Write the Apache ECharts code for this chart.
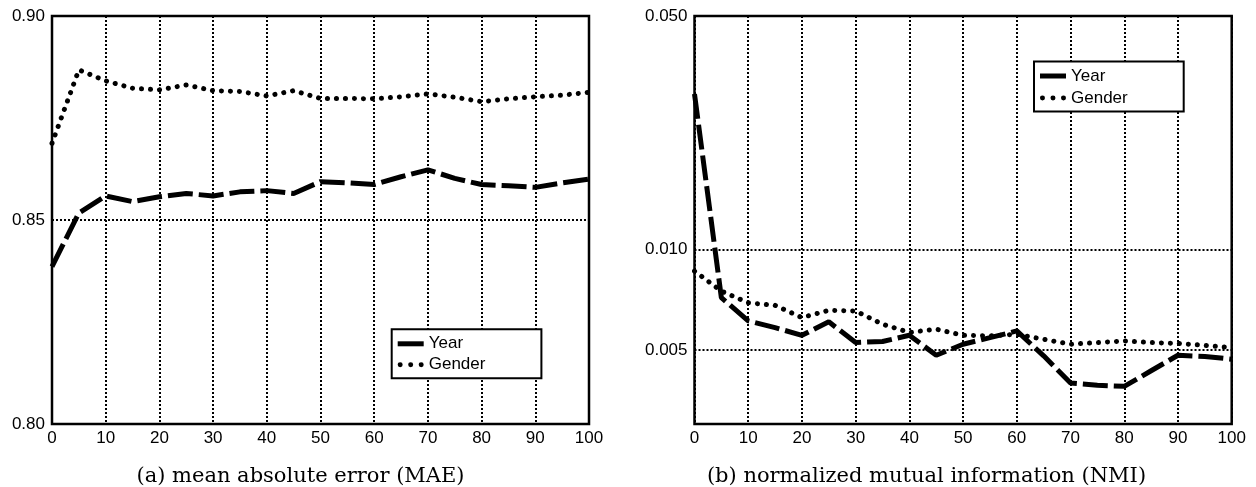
<!DOCTYPE html>
<html><head><meta charset="utf-8">
<script src="https://cdn.jsdelivr.net/npm/echarts@6/dist/echarts.min.js"></script>
<style>html,body{margin:0;padding:0;background:#fff}#c{width:1256px;height:487px}</style>
</head><body><div id="c"></div>
<script>
const xs = [0,5,10,15,20,25,30,35,40,45,50,55,60,65,70,75,80,85,90,95,100];
const maeYear   = [0.8386,0.8517,0.8559,0.8545,0.8557,0.8565,0.8559,0.8569,0.8572,0.8565,0.8594,0.8591,0.8587,0.8606,0.8623,0.8602,0.8587,0.8584,0.8580,0.8591,0.8600];
const maeGender = [0.8688,0.8868,0.8841,0.8823,0.8819,0.8831,0.8817,0.8815,0.8804,0.8817,0.8798,0.8798,0.8797,0.8802,0.8809,0.8801,0.8790,0.8797,0.8802,0.8806,0.8813];
const nmiYear   = [0.0292,0.00717,0.00611,0.00583,0.00553,0.00607,0.00526,0.00530,0.00553,0.00482,0.00520,0.00544,0.00570,0.00480,0.00398,0.00392,0.00389,0.00433,0.00482,0.00478,0.00469];
const nmiGender = [0.00861,0.00750,0.00692,0.00680,0.00625,0.00657,0.00654,0.00597,0.00564,0.00577,0.00553,0.00551,0.00557,0.00538,0.00520,0.00526,0.00532,0.00526,0.00523,0.00516,0.00508];
const xTicks = [0,10,20,30,40,50,60,70,80,90,100];
const maeTicks = [0.80,0.85,0.90];
const nmiTicks = [0.005,0.010,0.050];
const seriesNames = ['Year','Gender'];
const captions = ['(a) mean absolute error (MAE)','(b) normalized mutual information (NMI)'];

const pairs = (ys) => xs.map((x,i)=>[x, ys[i]]);
const FONT = '"Liberation Sans", Arial, Helvetica, sans-serif';
const dotted = {color:'#000', width:2, type:[2,2]};
const dotPath = 'path://M1,2.5a2.3,2.3 0 1,0 4.6,0a2.3,2.3 0 1,0 -4.6,0M10.7,2.5a2.3,2.3 0 1,0 4.6,0a2.3,2.3 0 1,0 -4.6,0M20.4,2.5a2.3,2.3 0 1,0 4.6,0a2.3,2.3 0 1,0 -4.6,0';

function xAxis(gi){
  return {type:'value', gridIndex:gi, min:0, max:100, interval:10,
    axisLine:{show:false}, axisTick:{show:false},
    axisLabel:{color:'#000', fontSize:17, fontFamily:FONT, margin:6, customValues:xTicks},
    splitLine:{show:true, lineStyle:dotted}};
}
function legend(left, top, gap){
  return {orient:'vertical', left:left, top:top, itemWidth:26, itemHeight:5, itemGap:gap,
    padding:[6,56,5,6], borderColor:'#000', borderWidth:2, backgroundColor:'#fff',
    textStyle:{color:'#000', fontSize:17, fontFamily:FONT},
    data:[{name:seriesNames[0], icon:'rect'},{name:seriesNames[1], icon:dotPath}]};
}
function yearSeries(xi, data){
  return {name:seriesNames[0], type:'line', xAxisIndex:xi, yAxisIndex:xi, data:pairs(data),
    showSymbol:false, symbol:'none', color:'#000', itemStyle:{color:'#000'},
    lineStyle:{color:'#000', width:5, type:[25,6], cap:'butt'}, z:3};
}
function genderSeries(xi, data){
  return {name:seriesNames[1], type:'line', xAxisIndex:xi, yAxisIndex:xi, data:pairs(data),
    showSymbol:false, symbol:'none', color:'#000', itemStyle:{color:'#000'},
    lineStyle:{color:'#000', width:5, type:[0.1,8.9], cap:'round'}, z:3};
}

const chart = echarts.init(document.getElementById('c'), null, {renderer:'canvas'});
chart.setOption({
  animation:false,
  backgroundColor:'#fff',
  grid:[
    {left:52, top:16, width:537, height:408, show:true, borderColor:'#000', borderWidth:2.5, backgroundColor:'transparent', z:4},
    {left:694.5, top:16, width:537.2, height:408, show:true, borderColor:'#000', borderWidth:2.5, backgroundColor:'transparent', z:4}
  ],
  xAxis:[xAxis(0), xAxis(1)],
  yAxis:[
    {type:'value', gridIndex:0, min:0.80, max:0.90, interval:0.05,
     axisLine:{show:false}, axisTick:{show:false},
     axisLabel:{color:'#000', fontSize:17, fontFamily:FONT, margin:7, customValues:maeTicks, formatter:(v)=>v.toFixed(2)},
     splitLine:{show:true, lineStyle:dotted}},
    {type:'log', gridIndex:1, min:0.003, max:0.05, logBase:10,
     axisLine:{show:false}, axisTick:{show:false, customValues:nmiTicks},
     axisLabel:{color:'#000', fontSize:17, fontFamily:FONT, margin:7, customValues:nmiTicks, formatter:(v)=>(+v).toFixed(3)},
     splitLine:{show:true, lineStyle:dotted}}
  ],
  legend:[legend(391.7, 329.3, 4), legend(1034, 61.5, 5)],
  series:[
    yearSeries(0, maeYear), genderSeries(0, maeGender),
    yearSeries(1, nmiYear), genderSeries(1, nmiGender)
  ],
  graphic:[
    {type:'text', x:300.5, y:477, style:{text:captions[0], fill:'#000', fontSize:21, fontFamily:'"DejaVu Serif", serif', align:'center', verticalAlign:'middle'}},
    {type:'text', x:926.5, y:477, style:{text:captions[1], fill:'#000', fontSize:21, fontFamily:'"DejaVu Serif", serif', align:'center', verticalAlign:'middle'}}
  ]
});
</script></body></html>
